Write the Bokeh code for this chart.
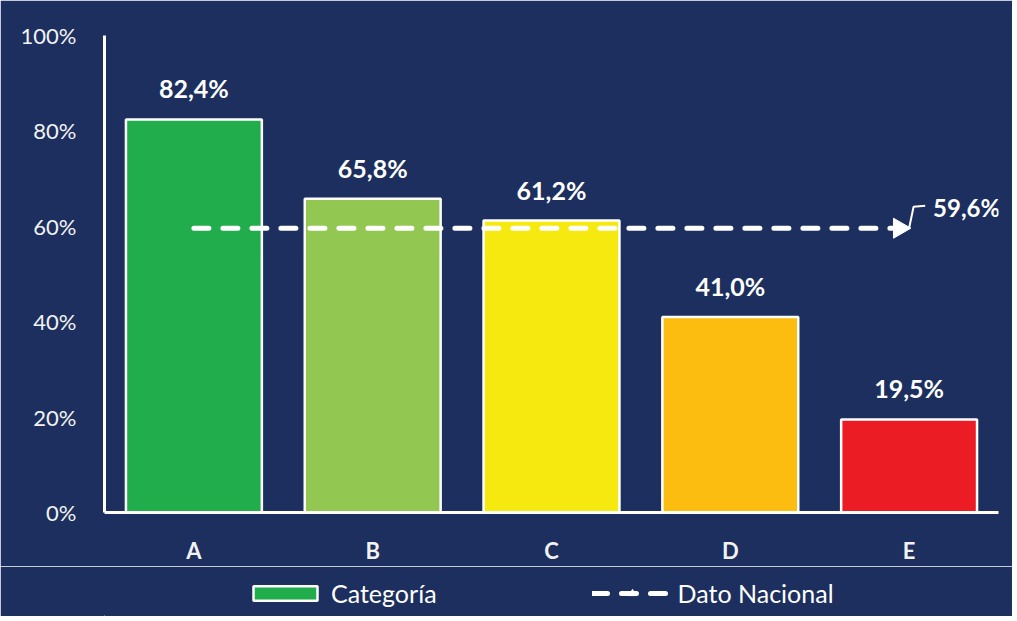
from bokeh.plotting import figure
from bokeh.layouts import column
from bokeh.models import (ColumnDataSource, FactorRange, Legend, LegendItem, Label,
                          FixedTicker, CustomJSTickFormatter, Range1d)
from bokeh.core.properties import value
from bokeh.embed import file_html
from bokeh.resources import INLINE

# ---- data ----
categorias = ["A", "B", "C", "D", "E"]
porcentajes = [82.4, 65.8, 61.2, 41.0, 19.5]
colores = ["#21ad4b", "#92c851", "#f5e90f", "#fdbd10", "#ec1c24"]
dato_nacional = 59.6
y_ticks = [0, 20, 40, 60, 80, 100]
leyenda = ["Categoría", "Dato Nacional"]

BG = "#1c2f5e"
FONT = "Lato"

src = ColumnDataSource(dict(
    cat=categorias,
    val=[v / 100 for v in porcentajes],
    color=colores,
    lab=[f"{v:.1f}".replace(".", ",") + "%" for v in porcentajes],
))

p = figure(frame_width=894, frame_height=477, x_range=FactorRange(factors=categorias),
           y_range=(0, 1), output_backend="svg", toolbar_location=None,
           min_border_left=104, min_border_right=14, min_border_top=35,
           min_border_bottom=50)
p.background_fill_color = BG
p.border_fill_color = BG
p.outline_line_color = BG
p.outline_line_width = 3
p.xgrid.grid_line_color = None
p.ygrid.grid_line_color = None

# axes
for ax in (p.xaxis[0], p.yaxis[0]):
    ax.axis_line_color = "white"
    ax.axis_line_width = 3
    ax.major_tick_line_color = None
    ax.minor_tick_line_color = None
    ax.major_label_text_color = "#f2f2f2"
    ax.major_label_text_font = FONT

p.yaxis.ticker = FixedTicker(ticks=[t / 100 for t in y_ticks])
p.yaxis.formatter = CustomJSTickFormatter(code="return Math.round(tick*100) + '%';")
p.yaxis.major_label_text_font_size = "22px"
p.yaxis.major_label_standoff = 22
p.xaxis.major_label_text_font_size = "22px"
p.xaxis.major_label_text_font_style = "bold"
p.xaxis.major_label_standoff = 18

# bars
bars = p.vbar(x="cat", top="val", width=0.76, source=src, fill_color="color",
              line_color="white", line_width=2.5)

# value labels
p.text(x="cat", y="val", text="lab", source=src, text_color="white",
       text_font=value(FONT), text_font_style="bold", text_font_size="25px",
       text_align="center", text_baseline="alphabetic", y_offset=-31)

# national line with arrow
nac = dato_nacional / 100
x_a = categorias.index("A") + 0.5
x_e = categorias.index("E") + 0.5
nsrc = ColumnDataSource(dict(x=[x_a, x_e - 0.06], y=[nac, nac]))
p.line(x="x", y="y", source=nsrc, line_color="white", line_width=5,
       line_dash="15 14", line_cap="round")
p.scatter(x=[x_e - 0.055], y=[nac], marker="triangle", angle=-1.5708,
          size=20, fill_color="white", line_color="white")

# leader line for the national value
p.line(x=[x_e, x_e + 0.025, x_e + 0.09], y=[nac, nac + 0.045, nac + 0.047],
       line_color="white", line_width=2)
p.add_layout(Label(x=x_e, y=nac, text=f"{dato_nacional:.1f}".replace(".", ",") + "%",
                   x_offset=24, y_offset=21, text_color="white", text_font=FONT,
                   text_font_style="bold", text_font_size="24px",
                   text_baseline="middle"))

# ---- legend strip (separate figure below) ----
lg = figure(width=1012, height=50, x_range=Range1d(10, 11), y_range=Range1d(10, 11),
            output_backend="svg", toolbar_location=None,
            min_border_left=104, min_border_right=14, min_border_top=4,
            min_border_bottom=0)
lg.axis.visible = False
lg.grid.visible = False
lg.outline_line_color = BG
lg.outline_line_width = 3
lg.background_fill_color = BG
lg.border_fill_color = BG
r_bar = lg.vbar(x=[0], top=[0], width=0.5, fill_color=colores[0],
                line_color="white", line_width=2.5)
r_line = lg.line(x=[0, 1], y=[0, 0], line_color="white", line_width=5,
                 line_dash="15 14", line_cap="round")
r_arrow = lg.scatter(x=[0], y=[0], marker="triangle", angle=-1.5708, size=20,
                     fill_color="white", line_color="white")
legend = Legend(items=[
    LegendItem(label=leyenda[0], renderers=[r_bar]),
    LegendItem(label=leyenda[1], renderers=[r_line, r_arrow]),
], orientation="horizontal", location=(141, 8), glyph_width=80, glyph_height=18,
   spacing=155, padding=0, margin=0, label_standoff=6,
   label_text_color="white", label_text_font=FONT, label_text_font_size="25px",
   background_fill_alpha=0, border_line_color=None)
lg.add_layout(legend, "center")

html = file_html(column(p, lg, spacing=0), INLINE)
html = html.replace("<body>", f'<body style="background:{BG}">', 1)
open("out.html", "w").write(html)
